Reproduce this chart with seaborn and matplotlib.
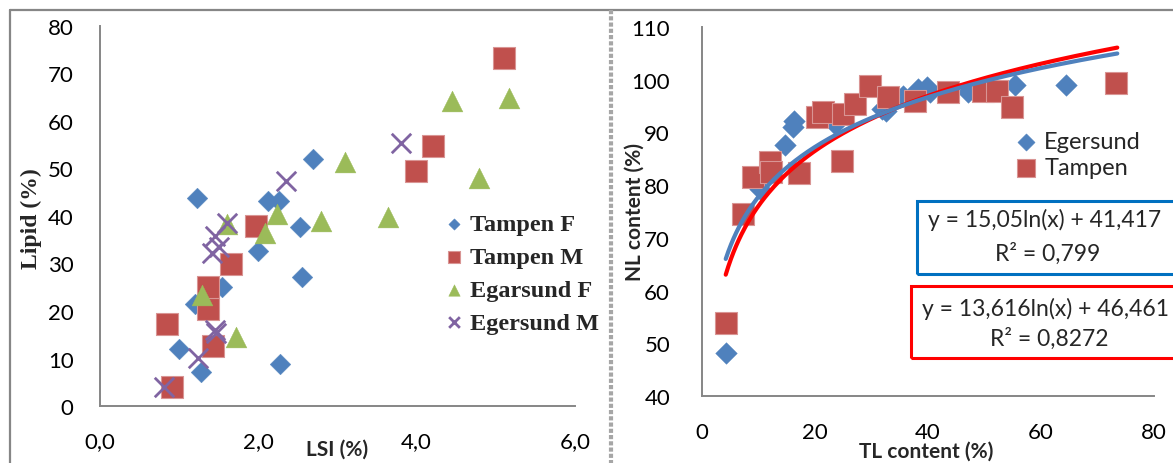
import numpy as np
import pandas as pd
import matplotlib
matplotlib.use('Agg')
import matplotlib.pyplot as plt
import seaborn as sns
from matplotlib.lines import Line2D
from matplotlib.patches import Rectangle

# ------------------------------------------------------------
# Left panel: LSI (%) vs Lipid (%)
# ------------------------------------------------------------
tampen_f_lsi = [1.22, 2.69, 2.12, 2.26, 2.52, 2.00, 2.55, 1.54, 1.20, 1.00, 1.27, 2.27]
tampen_f_lipid = [43.7, 52.0, 43.2, 43.2, 37.7, 32.7, 27.1, 25.0, 21.5, 12.1, 7.2, 8.8]

tampen_m_lsi = [0.84, 0.91, 1.43, 1.37, 1.37, 1.66, 1.97, 3.99, 4.21, 5.10]
tampen_m_lipid = [17.3, 4.1, 12.6, 20.4, 25.0, 29.9, 38.0, 49.4, 54.8, 73.2]

egersund_f_lsi = [1.29, 1.72, 1.61, 2.09, 2.23, 2.79, 3.10, 3.64, 4.44, 4.79, 5.17]
egersund_f_lipid = [23.4, 14.5, 38.3, 36.4, 40.4, 39.0, 51.4, 39.7, 64.3, 48.0, 64.8]

egersund_m_lsi = [0.81, 1.24, 1.45, 1.47, 1.41, 1.50, 1.45, 1.61, 2.35, 3.80]
egersund_m_lipid = [4.1, 10.2, 16.0, 15.4, 32.3, 33.5, 35.7, 38.5, 47.4, 55.4]

# ------------------------------------------------------------
# Right panel: TL content (%) vs NL content (%)
# ------------------------------------------------------------
egersund_tl = [4.2, 10.3, 14.7, 16.1, 16.3, 23.5, 31.8, 32.6, 35.6, 38.3, 39.8,
               40.4, 47.1, 55.4, 64.4]
egersund_nl = [48.1, 79.3, 87.6, 91.0, 92.2, 91.6, 94.5, 94.0, 97.0, 98.3, 98.6,
               97.6, 97.6, 99.0, 99.0]

tampen_tl = [4.2, 7.3, 9.1, 12.0, 12.2, 17.2, 20.3, 21.5, 25.0, 24.8, 27.1, 29.7,
             33.0, 37.7, 43.6, 49.8, 52.2, 54.8, 73.3]
tampen_nl = [53.8, 74.5, 81.5, 84.3, 82.4, 82.3, 92.9, 93.8, 93.5, 84.6, 95.4, 98.9,
             96.7, 96.0, 97.6, 97.9, 97.9, 94.8, 99.4]

# logarithmic trend lines as printed in the chart (a*ln(x) + b)
trend_blue = (13.616, 46.461)
trend_red = (15.05, 41.417)
trend_range = (4.2, 73.5)

C_BLUE = '#4F81BD'
C_RED = '#C0504D'
C_GREEN = '#9BBB59'
C_PURPLE = '#8064A2'
C_AXIS = '#868686'

W, H = 1173, 464
sns.set_theme(style='white')
plt.rcParams['font.family'] = ['Lato', 'DejaVu Sans']

fig = plt.figure(figsize=(W / 100, H / 100), dpi=100)


def fx(px):
    return px / W


def fy(py):
    return 1 - py / H


def style_axes(ax, ypad, xpad):
    for side in ['top', 'right']:
        ax.spines[side].set_visible(False)
    for side in ['left', 'bottom']:
        ax.spines[side].set_color(C_AXIS)
        ax.spines[side].set_linewidth(1.4)
    ax.tick_params(axis='both', direction='out', length=7, width=1.4,
                   color=C_AXIS, labelsize=16, labelcolor='black')
    ax.tick_params(axis='y', pad=ypad)
    ax.tick_params(axis='x', pad=xpad)
    ax.set_xlabel('')
    ax.set_ylabel('')


# ---------------- left ----------------
ax1 = fig.add_axes([fx(100), fy(407), fx(575) - fx(100), fy(27) - fy(407)])
sns.scatterplot(x=tampen_f_lsi, y=tampen_f_lipid, ax=ax1, marker='D', s=10.5 ** 2,
                color=C_BLUE, edgecolor=C_BLUE, linewidth=0.3, label='Tampen F')
sns.scatterplot(x=tampen_m_lsi, y=tampen_m_lipid, ax=ax1, marker='s', s=15.5 ** 2,
                color=C_RED, edgecolor='#D99594', linewidth=0.8, label='Tampen M')
sns.scatterplot(x=egersund_f_lsi, y=egersund_f_lipid, ax=ax1, marker='^', s=15 ** 2,
                color=C_GREEN, edgecolor=C_GREEN, linewidth=0.3, label='Egarsund F')
sns.scatterplot(x=egersund_m_lsi, y=egersund_m_lipid, ax=ax1, marker='x', s=14 ** 2,
                color=C_PURPLE, linewidth=2, label='Egersund M')
ax1.set_xlim(0, 6)
ax1.set_ylim(0, 80)
ax1.set_xticks([0, 2, 4, 6])
ax1.set_xticklabels(['0,0', '2,0', '4,0', '6,0'])
ax1.set_yticks(range(0, 81, 10))
style_axes(ax1, 12, 11)
ax1.legend(loc='upper left', bbox_to_anchor=(fx(447), fy(214)),
           bbox_transform=fig.transFigure, frameon=False, markerscale=0.55,
           handlelength=0.6, handletextpad=0.35, labelspacing=0.45,
           borderpad=0, borderaxespad=0,
           prop={'family': 'Liberation Serif', 'weight': 'bold', 'size': 17.5})

fig.text(fx(31), fy(219), 'Lipid (%)', rotation=90, ha='center', va='center',
         family='Liberation Serif', weight='bold', fontsize=17)
fig.text(fx(337), fy(450), 'LSI (%)', ha='center', va='center',
         weight='bold', fontsize=15)

# ---------------- right ----------------
ax2 = fig.add_axes([fx(702), fy(397), fx(1154) - fx(702), fy(28) - fy(397)])
sns.scatterplot(x=egersund_tl, y=egersund_nl, ax=ax2, marker='D', s=11 ** 2,
                color=C_BLUE, edgecolor=C_BLUE, linewidth=0.3, label='Egersund')
sns.scatterplot(x=tampen_tl, y=tampen_nl, ax=ax2, marker='s', s=15.5 ** 2,
                color=C_RED, edgecolor='#D99594', linewidth=0.8, label='Tampen')

tx = np.linspace(trend_range[0], trend_range[1], 300)
sns.lineplot(x=tx, y=trend_red[0] * np.log(tx) + trend_red[1], ax=ax2,
             color='#FF0000', linewidth=3, legend=False, zorder=5)
sns.lineplot(x=tx, y=trend_blue[0] * np.log(tx) + trend_blue[1], ax=ax2,
             color=C_BLUE, linewidth=3, legend=False, zorder=6)

ax2.set_xlim(0, 80)
ax2.set_ylim(40, 110)
ax2.set_xticks(range(0, 81, 20))
ax2.set_yticks(range(40, 111, 10))
style_axes(ax2, 16, 12)
ax2.legend(loc='upper left', bbox_to_anchor=(fx(1017), fy(132)),
           bbox_transform=fig.transFigure, frameon=False, markerscale=0.8,
           handlelength=0.8, handletextpad=0.35, labelspacing=0.2,
           borderpad=0, borderaxespad=0, prop={'size': 17})

fig.text(fx(635), fy(212), 'NL content (%)', rotation=90, ha='center', va='center',
         weight='bold', fontsize=15)
fig.text(fx(926), fy(452), 'TL content (%)', ha='center', va='center',
         weight='bold', fontsize=15)

# trend line equation boxes
fig.add_artist(Rectangle((fx(917), fy(275)), fx(1179) - fx(917), fy(202) - fy(275),
                         transform=fig.transFigure, fill=False, edgecolor='#0070C0',
                         linewidth=2.2, clip_on=False))
fig.add_artist(Rectangle((fx(911), fy(359)), fx(1185) - fx(911), fy(287) - fy(359),
                         transform=fig.transFigure, fill=False, edgecolor='#FF0000',
                         linewidth=2.2, clip_on=False))
fig.text(fx(1045), fy(220), 'y = 15,05ln(x) + 41,417', ha='center', va='center', fontsize=16.5)
fig.text(fx(1048), fy(254), 'R² = 0,799', ha='center', va='center', fontsize=16.5)
fig.text(fx(1045), fy(309), 'y = 13,616ln(x) + 46,461', ha='center', va='center', fontsize=16.5)
fig.text(fx(1049), fy(339), 'R² = 0,8272', ha='center', va='center', fontsize=16.5)

# panel frames
frame_kw = dict(transform=fig.transFigure, color=C_AXIS, linewidth=1.6)
fig.add_artist(Line2D([fx(10), fx(10)], [fy(11), fy(464)], **frame_kw))
fig.add_artist(Line2D([fx(10), fx(1173)], [fy(11), fy(11)], **frame_kw))
fig.add_artist(Line2D([fx(611), fx(611)], [fy(11), fy(464)], transform=fig.transFigure,
                      color='#A6A6A6', linewidth=3, linestyle=(0, (1, 0.5))))

fig.savefig('out.png', dpi=100)
